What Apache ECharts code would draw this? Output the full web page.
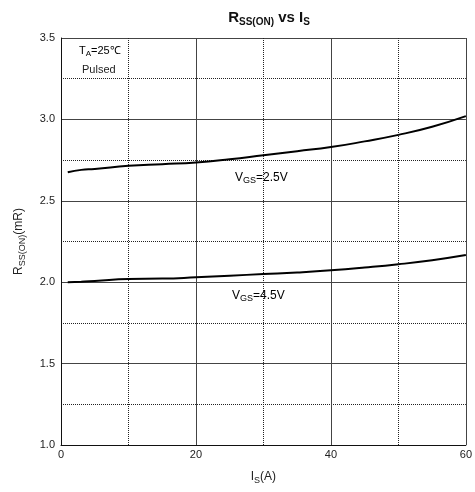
<!DOCTYPE html>
<html>
<head>
<meta charset="utf-8">
<script src="https://cdn.jsdelivr.net/npm/echarts@6/dist/echarts.min.js"></script>
<style>
  html, body { margin: 0; padding: 0; background: #fff; }
  #chart { width: 475px; height: 492px; }
</style>
</head>
<body>
<div id="chart"></div>
<script>
var currentA = [1, 3, 5, 10, 15, 20, 25, 30, 35, 40, 45, 50, 55, 60];
var vgs25 = [2.675, 2.69, 2.695, 2.715, 2.725, 2.735, 2.755, 2.78, 2.805, 2.83, 2.865, 2.905, 2.955, 3.02];
var vgs45 = [2.0, 2.003, 2.007, 2.02, 2.022, 2.03, 2.04, 2.05, 2.06, 2.073, 2.09, 2.11, 2.135, 2.167];

function pairs(xs, ys) {
  var out = [];
  for (var i = 0; i < xs.length; i++) {
    out.push([xs[i], ys[i]]);
  }
  return out;
}

var font = 'Liberation Sans, Arial, sans-serif';
var subRich = {
  n: { fontFamily: font, fontSize: 11, color: '#222' },
  s: { fontFamily: font, fontSize: 8, color: '#222', padding: [6, 0, 0, 0] }
};
var vgsRich = {
  n: { fontFamily: font, fontSize: 12, color: '#222' },
  s: { fontFamily: font, fontSize: 9, color: '#222', padding: [6, 0, 0, 0] }
};

var chart = echarts.init(document.getElementById('chart'));
var option = {
  animation: false,
  title: {
    text: '{b|R}{s|SS(ON)}{b| vs I}{s|S}',
    left: 264,
    textAlign: 'center',
    top: 4,
    textStyle: {
      rich: {
        b: { fontFamily: font, fontSize: 15, fontWeight: 'bold', color: '#111' },
        s: { fontFamily: font, fontSize: 10, fontWeight: 'bold', color: '#111', padding: [8, 0, 0, 0] }
      }
    }
  },
  grid: { left: 61, right: 7, top: 38, bottom: 47 },
  xAxis: {
    type: 'value',
    min: 0, max: 60, interval: 20,
    name: '{n|I}{s|S}{n|(A)}',
    nameLocation: 'middle',
    nameGap: 24,
    nameTextStyle: { rich: { n: { fontFamily: font, fontSize: 12, color: '#222' }, s: { fontFamily: font, fontSize: 9, color: '#222', padding: [7, 0, 0, 0] } } },
    axisLine: { lineStyle: { color: '#111', width: 1 } },
    axisTick: { show: false },
    axisLabel: { fontFamily: font, fontSize: 11, color: '#222', margin: 4 },
    splitLine: { lineStyle: { color: '#444', width: 1 } },
    minorTick: { show: false, splitNumber: 2 },
    minorSplitLine: { show: true, lineStyle: { color: '#222', type: 'dotted', width: 1 } }
  },
  yAxis: {
    type: 'value',
    min: 1.0, max: 3.5, interval: 0.5,
    name: '{n|R}{s|SS(ON)}{n|(mR)}',
    nameLocation: 'middle',
    nameGap: 34,
    nameTextStyle: { rich: { n: { fontFamily: font, fontSize: 12, color: '#222' }, s: { fontFamily: font, fontSize: 9, color: '#222', padding: [7, 0, 0, 0] } } },
    axisLine: { show: true, lineStyle: { color: '#111', width: 1 } },
    axisTick: { show: false },
    axisLabel: { fontFamily: font, fontSize: 11, color: '#222', margin: 6, formatter: function (v) { return v.toFixed(1); } },
    splitLine: { lineStyle: { color: '#444', width: 1 } },
    minorTick: { show: false, splitNumber: 2 },
    minorSplitLine: { show: true, lineStyle: { color: '#222', type: 'dotted', width: 1 } }
  },
  graphic: [
    { type: 'text', left: 79, top: 45, style: { text: '{n|T}{s|A}{n|=25℃}', rich: subRich } },
    { type: 'text', left: 82, top: 64, style: { text: 'Pulsed', fontFamily: font, fontSize: 11, fill: '#222' } },
    { type: 'text', left: 235, top: 172, style: { text: '{n|V}{s|GS}{n|=2.5V}', rich: vgsRich } },
    { type: 'text', left: 232, top: 290, style: { text: '{n|V}{s|GS}{n|=4.5V}', rich: vgsRich } }
  ],
  series: [
    {
      name: 'VGS=2.5V', type: 'line', smooth: true, showSymbol: false,
      lineStyle: { color: '#000', width: 2 },
      data: pairs(currentA, vgs25)
    },
    {
      name: 'VGS=4.5V', type: 'line', smooth: true, showSymbol: false,
      lineStyle: { color: '#000', width: 2 },
      data: pairs(currentA, vgs45)
    }
  ]
};
chart.setOption(option);
</script>
</body>
</html>
